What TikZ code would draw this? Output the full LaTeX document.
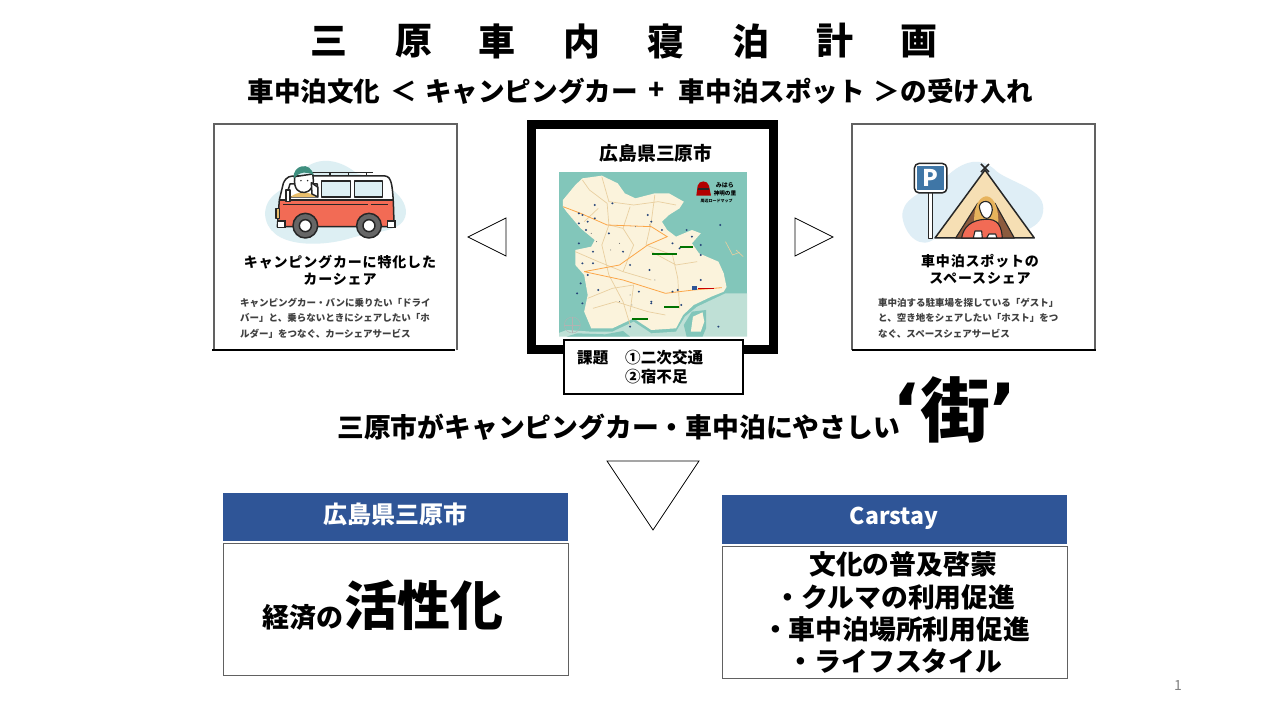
\documentclass[tikz,border=0pt]{standalone}
\usepackage{fontspec}
\setmainfont{Noto Sans CJK JP}
\newfontfamily\quotefont{DejaVu Sans}
\usetikzlibrary{shapes.geometric}
\definecolor{hdr}{HTML}{2F5597}
\definecolor{sea}{HTML}{82C6BA}
\definecolor{shoal}{HTML}{BFE0D6}
\definecolor{land}{HTML}{FBF3DC}
\definecolor{road}{HTML}{E9CFA0}
\definecolor{rd}{HTML}{F26B55}
\definecolor{pale}{HTML}{DDEFF3}
\definecolor{paleb}{HTML}{DFEEF6}
\definecolor{tan}{HTML}{F6DFB4}
\definecolor{pblue}{HTML}{3F76A6}
\definecolor{hat}{HTML}{3F8F7F}
\definecolor{shirt}{HTML}{E9BE6C}
\definecolor{hair}{HTML}{E7B35C}
\definecolor{tentin}{HTML}{8C5B3E}
\newcommand{\fs}[1]{\fontsize{#1}{#1}\selectfont}
\tikzset{
 txt/.style={inner sep=0pt,font=\bfseries\fs{#1}},
 txt/.default=26,
 small/.style={inner sep=0pt,anchor=west,align=left,font=\bfseries\fs{9.5},text=black!75},
 card/.style={draw=black!62,line width=1.4pt},
 tri/.style={draw=black,line width=0.8pt,fill=white},
 hd/.style={fill=hdr,text=white,inner sep=0pt,font=\bfseries\fs{24}},
 bx/.style={draw=black!62,line width=1pt,fill=white},
 ln/.style={draw=black!85,line width=1.5pt,line join=round},
 rdl/.style={draw=road,line width=0.7pt},
 rdo/.style={draw=orange!60!tan,line width=0.8pt},
}
\begin{document}
\begin{tikzpicture}[x=1pt,y=-1pt]
\useasboundingbox (0,0) rectangle (1280,720);
\fill[white] (0,0) rectangle (1280,720);
% title
\foreach \c/\x [count=\i] in {三/329,原/413.5,車/497,内/581.5,寝/665.5,泊/750.5,計/834.5,画/918.5}
  \node[txt=37] (t\i) at (\x,41) {\c};
\node[txt=26.6] (s1) at (314,91) {車中泊文化};
\node[txt=26.6] (s2) at (404,91) {＜};
\node[txt=26.6] (s3) at (531.5,91) {キャンピングカー};
\node[txt=26.6] (s4) at (657,91) {+};
\node[txt=26.6] (s5) at (772,91) {車中泊スポット};
\node[txt=26.6] (s6) at (887,91) {＞};
\node[txt=26.6] (s7) at (967,91) {の受け入れ};
% left card
\draw[card] (457,350) -- (457,124) -- (214,124) -- (214,350);
\draw[line width=1.2pt] (212,350) -- (455,350);
\begin{scope}[shift={(200,110)},x=0.3333pt,y=-0.3333pt]
 \fill[pale] (195,310) .. controls (200,240) and (270,240) .. (300,190) .. controls (340,140) and (410,140) .. (470,190) .. controls (540,210) and (620,250) .. (618,310) .. controls (610,370) and (530,360) .. (450,385) .. controls (370,410) and (200,420) .. (195,310) -- cycle;
 \draw[ln,line width=1.2pt] (335,187)--(520,187) (390,187)--(390,198) (445,187)--(445,198) (500,187)--(500,198);
 \fill[rd] (238,270) -- (580,270) -- (580,350) -- (238,350) -- cycle;
 \fill[white] (238,270) -- (250,215) .. controls (260,198) and (270,198) .. (290,198) -- (555,198) .. controls (575,200) and (580,220) .. (580,270) -- cycle;
 \draw[ln] (232,350) -- (238,270) -- (250,220) .. controls (260,198) and (270,198) .. (290,198) -- (555,198) .. controls (575,200) and (580,220) .. (582,350) -- cycle;
 \draw[ln] (238,270) -- (580,270);
 \draw[ln,line width=1.1pt] (250,284) -- (505,284) (512,284) -- (565,284);
 \draw[ln,fill=pale] (364,213) rectangle (452,261);
 \draw[ln,fill=pale] (464,213) rectangle (548,261);
 \draw[ln,fill=white] (258,261) -- (270,222) -- (352,222) -- (352,261) -- cycle;
 \fill[shirt] (272,261) .. controls (290,243) and (330,243) .. (348,261) -- cycle;
 \draw[ln,fill=white] (284,200) .. controls (280,240) and (298,250) .. (315,247) .. controls (337,242) and (344,225) .. (338,192) -- cycle;
 \fill[hat] (281,205) .. controls (276,165) and (332,152) .. (340,195) .. controls (320,183) and (300,185) .. (281,205) -- cycle;
 \fill[black!85] (303,212) circle[radius=2.5] (323,212) circle[radius=2.5];
 \draw[ln,fill=white] (334,218) -- (354,232) -- (354,261) -- (336,252) -- cycle;
 \draw[ln,fill=white] (258,240) rectangle (270,275);
 \draw[ln,fill=shirt] (228,296) rectangle (238,325);
 \fill[white,draw=black!85,line width=1.2pt] (232,333) rectangle (255,353);
 \fill[white,draw=black!85,line width=1.2pt] (562,333) rectangle (585,353);
 \draw[ln,fill=black!60] (316,347) circle[radius=37];
 \draw[ln,fill=white] (316,347) circle[radius=18];
 \draw[ln,fill=black!60] (507,347) circle[radius=37];
 \draw[ln,fill=white] (507,347) circle[radius=18];
\end{scope}
\node[txt=14,align=center] (lt) at (340,270) {\addfontfeature{LetterSpace=6}キャンピングカーに特化した\\[3pt]\addfontfeature{LetterSpace=6}カーシェア};
\node[small] (ld) at (240,318) {キャンピングカー・バンに乗りたい「ドライ\\[6pt]バー」と、乗らないときにシェアしたい「ホ\\[6pt]ルダー」をつなぐ、カーシェアサービス};
% left triangle
\draw[tri] (468,237) -- (506,218) -- (506,256) -- cycle;
% centre
\draw[draw=black,line width=9pt,fill=white] (531.5,124.5) rectangle (773.5,349.5);
\node[txt=18.8] (ct) at (656,153) {広島県三原市};
\fill[sea] (559,172.3) rectangle (747,336);
\begin{scope}
 \clip (559,172.3) rectangle (747,336);
 \begin{scope}[shift={(545.3,165)},x=0.3533pt,y=-0.3333pt]
 \fill[shoal] (12,515) -- (60,495) -- (130,500) -- (190,500) -- (250,470) -- (300,505) -- (370,500) -- (395,455) -- (430,425) -- (510,385) -- (600,385) -- (600,515) -- cycle;
 \fill[sea] (400,515) -- (392,480) -- (415,440) -- (455,435) -- (455,490) -- (445,515) -- cycle;
 \fill[land] (412,500) -- (418,455) -- (445,442) -- (450,470) -- (440,500) -- cycle;
 \fill[sea] (60,515) -- (90,505) -- (170,508) -- (220,498) -- (240,515) -- cycle;
 \fill[land] (50,105) -- (85,60) -- (105,40) -- (160,32) -- (205,55) -- (225,85) -- (255,100) -- (310,85) -- (350,85) -- (392,110) -- (380,130) -- (350,150) -- (330,170) -- (345,195) -- (370,215) -- (415,195) -- (440,205) -- (415,235) -- (435,265) -- (490,290) -- (505,325) -- (513,366) -- (505,380) -- (470,395) -- (420,420) -- (390,450) -- (370,490) -- (300,495) -- (250,460) -- (190,490) -- (130,490) -- (110,440) -- (120,390) -- (110,330) -- (85,300) -- (85,255) -- (130,245) -- (140,225) -- (100,190) -- (60,140) -- (50,125) -- cycle;
 \draw[rdl] (105,45) -- (125,75) -- (175,115) -- (180,180) -- (160,240) -- (180,330) -- (220,410) -- (240,480)
   (160,35) -- (180,110) -- (250,120) -- (320,110) -- (370,120)
   (310,90) -- (300,170) -- (285,240) -- (360,270) -- (375,340) -- (380,430)
   (85,260) -- (150,290) -- (220,320) -- (300,345)
   (120,400) -- (190,370) -- (250,360) -- (240,440)
   (220,190) -- (250,240) -- (220,320)
   (150,130) -- (110,170) (240,125) -- (220,190) -- (180,180)
   (135,430) -- (200,410) -- (290,440) -- (340,450)
   (300,260) -- (370,300) -- (430,290);
 \draw[rdo] (50,125) -- (100,145) -- (175,180) -- (300,185) -- (345,215) -- (290,240) -- (210,300) -- (110,320)
   (110,320) -- (220,345) -- (340,385) -- (420,375) -- (500,368);
 \draw[draw=road,line width=0.6pt] (510,230) -- (530,270) -- (550,262) (540,255) -- (560,275);
 \foreach \a/\b in {95/145,120/170,140/160,190/115,105/150,135/295,105/295,135/260,120/330,140/120,290/150,300/170,330/195,360/235,380/250,415/215,440/345,375/375,385/420,95/175,95/235,180/205,220/260,240/300,265/380,240/485,295/315,100/355,90/385,105/415,490/485,300/410,495/180,115/195,150/375,360/380,400/195,300/415,440/240,440/270}
   \fill[hdr!80!black] (\a,\b) circle[radius=3.2];
 \foreach \a/\b in {130/205,145/230,210/235,255/185,295/180,185/255,245/420,210/410,310/345,240/390}
   \fill[black!60] (\a,\b) circle[radius=1.5];
 \fill[green!45!black] (303,264) rectangle (372,271);
 \fill[green!45!black] (245,460) rectangle (290,465);
 \fill[green!45!black] (380,242) rectangle (418,248);
 \fill[green!45!black] (337,422) rectangle (378,428);
 \fill[red!80!black] (433,368) rectangle (478,373);
 \fill[hdr] (415,362) rectangle (430,375);
 \end{scope}
\end{scope}
\begin{scope}[shift={(555,165)},x=0.3333pt,y=-0.3333pt]
 \fill[red!70!black] (428,62) .. controls (432,45) and (458,45) .. (462,62) -- (468,92) -- (424,92) -- cycle;
 \fill[black!85] (430,68) rectangle (462,76);
 \node[inner sep=0pt,font=\bfseries\fs{6}] (mlogo) at (510,62) {みはら};
 \node[inner sep=0pt,font=\bfseries\fs{5.6}] (mlogo2) at (510,84) {神明の里};
 \node[inner sep=0pt,font=\bfseries\fs{4}] (mlogo3) at (485,108) {周辺ロードマップ};
 \draw[black!30,line width=0.4pt] (52,480) circle[radius=24];
 \draw[black!30,line width=0.4pt] (28,480) -- (76,480) (52,456) -- (52,504);
\end{scope}
\node[draw=black,line width=2.6pt,fill=white,minimum width=179pt,minimum height=54pt,inner sep=0pt] (iss) at (653.5,367) {};
\node[txt=15.6,anchor=west] (k) at (577,358) {課題};
\node[txt=15.6,anchor=west] (i1) at (625,358) {①二次交通};
\node[txt=15.6,anchor=west] (i2) at (625,377) {②宿不足};
% right triangle
\draw[tri] (795,218) -- (833,237) -- (795,256) -- cycle;
% right card
\draw[card] (852,350) -- (852,124) -- (1095,124) -- (1095,350);
\draw[line width=1.2pt] (852,350) -- (1096,350);
\begin{scope}[shift={(785,110)},x=0.3333pt,y=-0.3333pt]
 \fill[paleb] (352,320) .. controls (350,270) and (400,250) .. (470,215) .. controls (510,170) and (570,130) .. (625,175) .. controls (660,215) and (775,230) .. (775,295) .. controls (775,360) and (700,365) .. (650,385) -- (450,385) .. controls (410,420) and (360,380) .. (352,320) -- cycle;
 \draw[ln,fill=white] (430,248) rectangle (442,386);
 \draw[ln,fill=white,rounded corners=5pt] (388,160) rectangle (486,249);
 \fill[pblue] (396,168) rectangle (478,240);
 \node[inner sep=0pt,text=white,font=\bfseries\fs{23}] (pp) at (437,205) {P};
 \draw[ln,fill=tan] (450,384) -- (600,180) -- (748,384) -- cycle;
 \draw[ln] (588,162) -- (612,186) (612,162) -- (588,186);
 \draw[ln,line width=1.1pt,fill=tentin] (512,384) -- (578,280) -- (630,280) -- (688,384) -- cycle;
 \fill[hair] (568,345) .. controls (560,240) and (640,225) .. (640,335) -- (620,340) -- (590,340) -- cycle;
 \draw[ln,line width=1.1pt,fill=white] (583,290) .. controls (585,270) and (622,265) .. (622,300) .. controls (618,335) and (590,335) .. (583,290) -- cycle;
 \draw[ln,line width=1.1pt,fill=rd] (530,384) .. controls (535,350) and (560,330) .. (600,328) .. controls (640,325) and (650,350) .. (652,384) -- cycle;
 \draw[ln,line width=1.1pt,fill=white] (565,384) -- (570,363) -- (590,363) -- (592,384) -- cycle;
 \draw[ln,line width=1.1pt,fill=white] (605,384) -- (612,372) -- (632,372) -- (636,384) -- cycle;
\end{scope}
\node[txt=14,align=center] (rt) at (980,269) {\addfontfeature{LetterSpace=6}車中泊スポットの\\[3pt]\addfontfeature{LetterSpace=6}スペースシェア};
\node[small] (rd1) at (878,318) {車中泊する駐車場を探している「ゲスト」\\[6pt]と、空き地をシェアしたい「ホスト」をつ\\[6pt]なぐ、スペースシェアサービス};
% middle message
\node[txt=26.8,anchor=west] (msg) at (337,427) {三原市がキャンピングカー・車中泊にやさしい};
\node[txt=70] (mach) at (955,409.5) {街};
\node[inner sep=0pt,anchor=base,font=\quotefont\bfseries\fs{72}] (q1) at (906,435) {‘};
\node[inner sep=0pt,anchor=base,font=\quotefont\bfseries\fs{72}] (q2) at (1003,435) {’};
% down triangle
\draw[tri] (607,461) -- (699,461) -- (653,530) -- cycle;
% left box
\node[hd,minimum width=345pt,minimum height=48pt] (lh) at (395.5,517) {};
\node[txt=24,text=white] (lht) at (395,514) {広島県三原市};
\node[bx,minimum width=345pt,minimum height=132pt] (lb) at (395.5,609.5) {};
\node[txt=27,anchor=west] (k1) at (262,617) {経済の};
\node[txt=53,anchor=west] (k2) at (344,605) {活性化};
% right box
\node[hd,minimum width=345pt,minimum height=49pt] (rh) at (894.5,519.5) {};
\node[txt=23,text=white] (rht) at (894,518) {Carstay};
\node[bx,minimum width=345pt,minimum height=132pt] (rb) at (894.5,612) {};
\node[txt=26.8] (r1) at (903,564) {文化の普及啓蒙};
\node[txt=26.8] (r2) at (895,597) {・クルマの利用促進};
\node[txt=26.8] (r3) at (896,629) {・車中泊場所利用促進};
\node[txt=26.8] (r4) at (895,661) {・ライフスタイル};
\node[inner sep=0pt,font=\fs{14},text=black!50] (pg) at (1178,686) {1};
\end{tikzpicture}
\end{document}
